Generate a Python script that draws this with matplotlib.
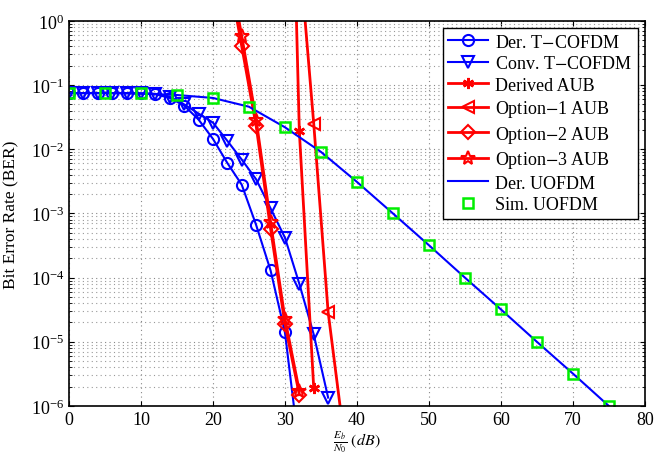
import matplotlib.pyplot as plt
from matplotlib.ticker import LogLocator, NullFormatter

plt.rcParams['font.family'] = ['Liberation Serif', 'DejaVu Serif']
plt.rcParams['mathtext.fontset'] = 'stix'

# Eb/N0 grids (dB)
snr_t = [0, 2, 4, 6, 8, 10, 12, 14, 16, 18, 20, 22, 24, 26, 28, 30, 32, 34, 36]
der_tcofdm = [0.075, 0.075, 0.075, 0.075, 0.075, 0.074, 0.072, 0.063, 0.048, 0.029,
              0.0145, 6.1e-3, 2.8e-3, 6.6e-4, 1.3e-4, 1.4e-5, 2e-7, None, None]
conv_tcofdm = [0.075, 0.075, 0.075, 0.075, 0.075, 0.074, 0.073, 0.066, 0.05, 0.036,
               0.026, 0.0135, 6.9e-3, 3.4e-3, 1.2e-3, 4.2e-4, 8e-5, 1.3e-5, 1.35e-6]

snr_aub = [30, 32, 34]
derived_aub = [8e6, 0.019, 1.9e-6]

snr_opt1 = [32, 34, 36, 38]
option1_aub = [12, 0.025, 2.9e-5, 5e-7]

snr_opt23 = [22, 24, 26, 28, 30, 32]
option2_aub = [7, 0.4, 0.023, 5.8e-4, 1.9e-5, 1.5e-6]
option3_aub = [10, 0.58, 0.029, 7.4e-4, 2.3e-5, 1.7e-6]

snr_u = [0, 5, 10, 15, 20, 25, 30, 35, 40, 45, 50, 55, 60, 65, 70, 75]
der_uofdm = [0.075, 0.075, 0.074, 0.07, 0.063, 0.046, 0.022, 9.1e-3, 3.1e-3,
             1.0e-3, 3.2e-4, 1.0e-4, 3.2e-5, 1.0e-5, 3.2e-6, 1.0e-6]
sim_uofdm = der_uofdm

fig = plt.figure(figsize=(6.54, 4.56), dpi=100)
ax = fig.add_axes([0.1055, 0.1075, 0.8805, 0.8445])

def pts(x, y):
    keep = [(a, b) for a, b in zip(x, y) if b is not None]
    return [a for a, _ in keep], [b for _, b in keep]

x, y = pts(snr_t, der_tcofdm)
ax.plot(x, y, color='blue', lw=1.5, marker='o', ms=8, mfc='none', mew=1.5,
        label='Der. T$-$COFDM')
ax.plot(snr_t, conv_tcofdm, color='blue', lw=1.5, marker='v', ms=9, mfc='none',
        mew=1.5, label='Conv. T$-$COFDM')
ax.plot(snr_aub, derived_aub, color='red', lw=2, marker=(6, 2, 0), ms=8, mew=1.8,
        label='Derived AUB')
ax.plot(snr_opt1, option1_aub, color='red', lw=2, marker='<', ms=9, mfc='none',
        mew=1.5, label='Option$-$1 AUB')
ax.plot(snr_opt23, option2_aub, color='red', lw=2, marker='D', ms=7, mfc='none',
        mew=1.5, label='Option$-$2 AUB')
ax.plot(snr_opt23, option3_aub, color='red', lw=2, marker='*', ms=10, mfc='none',
        mew=1.5, label='Option$-$3 AUB')
ax.plot(snr_u, der_uofdm, color='blue', lw=1.5, label='Der. UOFDM')
ax.plot(snr_u, sim_uofdm, ls='none', marker='s', ms=7, mfc='none', mec='#00ee00',
        mew=1.8, label='Sim. UOFDM')

ax.set_yscale('log')
ax.set_xlim(0, 80)
ax.set_ylim(1e-6, 1)
ax.set_xticks(range(0, 81, 10))
ax.yaxis.set_minor_locator(LogLocator(base=10, subs=range(2, 10), numticks=20))
ax.yaxis.set_minor_formatter(NullFormatter())
ax.grid(True, which='major', axis='both', ls=(0, (1, 3)), color='#888888', lw=0.8)
ax.grid(True, which='minor', axis='y', ls=(0, (1, 3)), color='#999999', lw=0.8)
ax.tick_params(which='both', direction='in', top=True, right=True, labelsize=13)
for s in ax.spines.values():
    s.set_linewidth(1.2)

ax.set_xlabel(r'$\frac{E_b}{N_0}\ (dB)$', fontsize=11.5, labelpad=0.5)
ax.set_ylabel('Bit Error Rate (BER)', fontsize=12.5, labelpad=8)

leg = ax.legend(loc='upper right', fontsize=13, fancybox=False, framealpha=1,
                edgecolor='black', borderaxespad=0.4, handlelength=2.2,
                labelspacing=0.25, borderpad=0.3, handletextpad=0.4)
leg.get_frame().set_linewidth(1.0)

fig.savefig('out.png', dpi=100)
